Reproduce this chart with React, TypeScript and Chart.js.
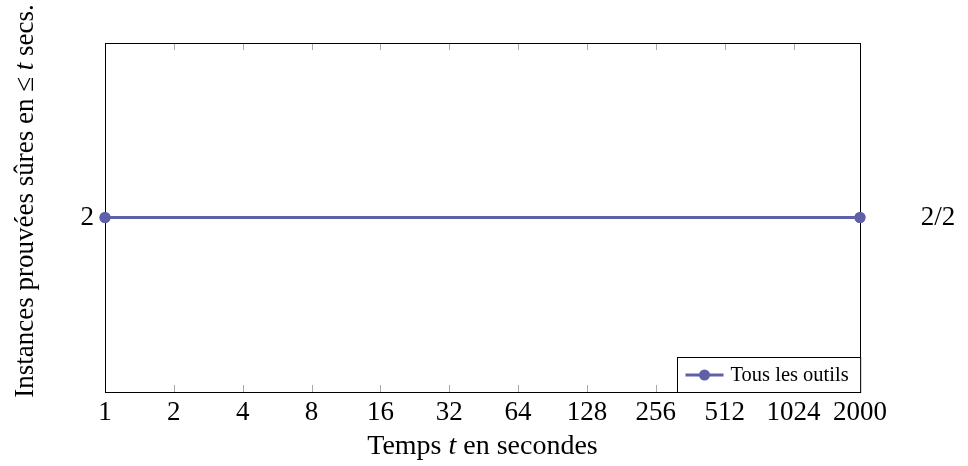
import React, { useEffect, useRef } from "react";
import { Chart, registerables } from "chart.js";

Chart.register(...registerables);

// ---- data ----
const times = [1, 2000];
const provedCounts = [2, 2];
const xTickValues = [1, 2, 4, 8, 16, 32, 64, 128, 256, 512, 1024, 2000];
const yTickValues = [2];
const seriesLabel = "Tous les outils";
const endLabel = "2/2";
const xTitleParts = ["Temps ", "t", " en secondes"];
const yTitleParts = ["Instances prouvées sûres en ≤ ", "t", " secs."];

const SERIES_COLOR = "#6060a8";
const SERIF = "'Liberation Serif', 'DejaVu Serif', serif";
const TICK_SIZE = 27;

function drawParts(ctx: CanvasRenderingContext2D, parts: string[], size: number, cx: number, cy: number) {
  const fonts = parts.map((_, i) => (i === 1 ? `italic ${size}px ${SERIF}` : `${size}px ${SERIF}`));
  let total = 0;
  const widths = parts.map((p, i) => {
    ctx.font = fonts[i];
    const w = ctx.measureText(p).width;
    total += w;
    return w;
  });
  let x = cx - total / 2;
  ctx.textBaseline = "middle";
  ctx.textAlign = "left";
  parts.forEach((p, i) => {
    ctx.font = fonts[i];
    ctx.fillText(p, x, cy);
    x += widths[i];
  });
}

const framePlugin = {
  id: "frame",
  afterDraw(chart: any) {
    const { ctx, chartArea: a, scales } = chart;
    const xs = scales.x;
    const ys = scales.y;
    ctx.save();
    // tick marks inside
    ctx.strokeStyle = "#a8a8a8";
    ctx.lineWidth = 1;
    xs.ticks.forEach((t: any) => {
      const px = Math.round(xs.getPixelForValue(t.value)) + 0.5;
      ctx.beginPath();
      ctx.moveTo(px, a.top);
      ctx.lineTo(px, a.top + 7);
      ctx.moveTo(px, a.bottom);
      ctx.lineTo(px, a.bottom - 7);
      ctx.stroke();
    });
    // frame
    ctx.strokeStyle = "#000";
    ctx.lineWidth = 1;
    ctx.strokeRect(Math.round(a.left) + 0.5, Math.round(a.top) + 0.5, Math.round(a.right - a.left), Math.round(a.bottom - a.top));

    // redraw points above the frame
    const meta = chart.getDatasetMeta(0);
    ctx.fillStyle = SERIES_COLOR;
    meta.data.forEach((pt: any) => {
      ctx.beginPath();
      ctx.arc(pt.x, pt.y, 5.5, 0, Math.PI * 2);
      ctx.fill();
    });

    // end label
    ctx.fillStyle = "#000";
    ctx.font = `${TICK_SIZE}px ${SERIF}`;
    ctx.textAlign = "center";
    ctx.textBaseline = "middle";
    const last = provedCounts[provedCounts.length - 1];
    ctx.fillText(endLabel, a.right + 78, ys.getPixelForValue(last));

    // legend box
    ctx.font = `20.5px ${SERIF}`;
    const tw = ctx.measureText(seriesLabel).width;
    const boxW = 8 + 38 + 7 + tw + 12;
    const boxH = 35;
    const bx = Math.round(a.right - boxW) + 0.5;
    const by = Math.round(a.bottom - boxH) + 0.5;
    ctx.fillStyle = "#fff";
    ctx.fillRect(bx, by, boxW, boxH);
    ctx.strokeStyle = "#000";
    ctx.lineWidth = 1;
    ctx.strokeRect(bx, by, boxW, boxH);
    const ly = by + boxH / 2;
    ctx.strokeStyle = SERIES_COLOR;
    ctx.lineWidth = 3;
    ctx.beginPath();
    ctx.moveTo(bx + 8, ly);
    ctx.lineTo(bx + 46, ly);
    ctx.stroke();
    ctx.fillStyle = SERIES_COLOR;
    ctx.beginPath();
    ctx.arc(bx + 27, ly, 5.5, 0, Math.PI * 2);
    ctx.fill();
    ctx.fillStyle = "#000";
    ctx.textAlign = "left";
    ctx.textBaseline = "middle";
    ctx.fillText(seriesLabel, bx + 53, ly + 1);

    // axis titles
    drawParts(ctx, xTitleParts, 28, (a.left + a.right) / 2, 447);
    ctx.save();
    ctx.translate(26, 201);
    ctx.rotate(-Math.PI / 2);
    drawParts(ctx, yTitleParts, 27, 0, 0);
    ctx.restore();

    ctx.restore();
  },
};

export default function App() {
  const ref = useRef<HTMLCanvasElement>(null);
  useEffect(() => {
    const canvas = ref.current!;
    const chart = new Chart(canvas, {
      type: "line",
      data: {
        datasets: [
          {
            label: seriesLabel,
            data: times.map((t, i) => ({ x: t, y: provedCounts[i] })),
            borderColor: SERIES_COLOR,
            backgroundColor: SERIES_COLOR,
            borderWidth: 3,
            pointRadius: 5.5,
            pointHoverRadius: 5.5,
            pointBorderWidth: 0,
            clip: false as any,
          },
        ],
      },
      options: {
        animation: false,
        responsive: false,
        events: [],
        layout: { padding: { left: 0, right: 108, top: 43, bottom: 0 } },
        plugins: { legend: { display: false }, tooltip: { enabled: false }, title: { display: false } },
        scales: {
          x: {
            type: "logarithmic",
            min: 1,
            max: 2000,
            grid: { display: false },
            border: { display: false },
            afterBuildTicks: (s: any) => {
              s.ticks = xTickValues.map((v) => ({ value: v }));
            },
            afterFit: (s: any) => {
              s.height = 74;
            },
            ticks: {
              autoSkip: false,
              maxRotation: 0,
              minRotation: 0,
              padding: -3,
              color: "#000",
              font: { family: SERIF, size: TICK_SIZE },
              callback: (v: any) => String(v),
            },
          },
          y: {
            type: "linear",
            min: 1,
            max: 3,
            grid: { display: false },
            border: { display: false },
            afterBuildTicks: (s: any) => {
              s.ticks = yTickValues.map((v) => ({ value: v }));
            },
            afterFit: (s: any) => {
              s.width = 105;
            },
            ticks: {
              padding: 3,
              color: "#000",
              font: { family: SERIF, size: TICK_SIZE },
              callback: (v: any) => String(v),
            },
          },
        },
      },
      plugins: [framePlugin],
    });
    return () => chart.destroy();
  }, []);
  return (
    <div style={{ position: "absolute", left: 0, top: 0, width: 968, height: 466, background: "#fff" }}>
      <canvas ref={ref} width={968} height={466} style={{ display: "block" }} />
    </div>
  );
}
